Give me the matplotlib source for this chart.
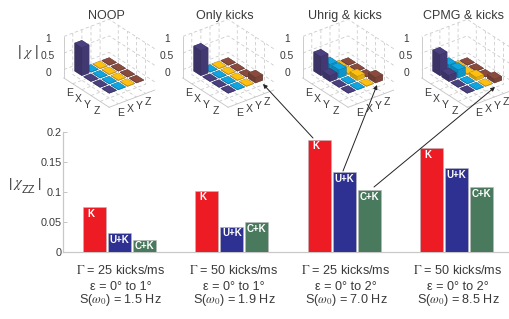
import numpy as np
import matplotlib
matplotlib.use("Agg")
import matplotlib.pyplot as plt
from matplotlib.colors import to_rgb
from matplotlib.patches import FancyArrowPatch
from mpl_toolkits.mplot3d import proj3d

# ---------- data ----------
conditions = ["K", "U+K", "C+K"]
k_values = [0.074, 0.102, 0.187, 0.173]
u_values = [0.031, 0.042, 0.133, 0.139]
c_values = [0.020, 0.049, 0.103, 0.108]
gamma_labels = ["25", "50", "25", "50"]
eps_labels = ["1", "1", "2", "2"]
s_labels = ["1.5", "1.9", "7.0", "8.5"]
panel_titles = ["NOOP", "Only kicks", "Uhrig & kicks", "CPMG & kicks"]
pauli = ["E", "X", "Y", "Z"]

# rows: y index (E, X, Y, Z); columns: x index (E, X, Y, Z)
chi_noop = [[0.85, 0.015, 0.015, 0.015],
            [0.015, 0.015, 0.015, 0.015],
            [0.015, 0.015, 0.015, 0.015],
            [0.015, 0.015, 0.015, 0.015]]
chi_kicks = [[0.76, 0.015, 0.015, 0.015],
             [0.015, 0.015, 0.015, 0.015],
             [0.015, 0.015, 0.015, 0.015],
             [0.015, 0.015, 0.015, 0.17]]
chi_uhrig = [[0.58, 0.18, 0.015, 0.015],
             [0.24, 0.25, 0.015, 0.015],
             [0.04, 0.04, 0.13, 0.015],
             [0.015, 0.015, 0.015, 0.17]]
chi_cpmg = [[0.64, 0.19, 0.015, 0.015],
            [0.22, 0.25, 0.015, 0.015],
            [0.03, 0.03, 0.10, 0.015],
            [0.015, 0.015, 0.015, 0.12]]
panels = [chi_noop, chi_kicks, chi_uhrig, chi_cpmg]

# ---------- style ----------
W, H = 510, 319
plt.rcParams["font.family"] = ["Liberation Sans", "DejaVu Sans"]
plt.rcParams["mathtext.fontset"] = "stix"
plt.rcParams["grid.linestyle"] = (0, (4, 3))
plt.rcParams["grid.color"] = "#cccccc"
plt.rcParams["grid.linewidth"] = 0.6
TXT = "#3a3a3a"
BAR_COLS = ["#ed1c24", "#2e3192", "#4a7a5e"]
ROW_COLS = ["#4a3f7f", "#0ea5e0", "#fdc010", "#8a4b3c"]

fig = plt.figure(figsize=(W / 100, H / 100), dpi=100)
fig.patch.set_facecolor("white")


def rect(x0, y_top, x1, y_bot):
    return [x0 / W, 1 - y_bot / H, (x1 - x0) / W, (y_bot - y_top) / H]


def shade(col, f):
    return tuple(c * f for c in to_rgb(col))


# ---------- main bars ----------
ax = fig.add_axes(rect(63, 131.7, 510, 251.7))
x_groups = np.arange(4)
bw = 0.205
step = 0.2226
for i, (vals, col, name) in enumerate(zip([k_values, u_values, c_values], BAR_COLS, conditions)):
    xs = x_groups + (i - 1) * step
    ax.bar(xs, vals, width=bw, color=col, edgecolor="#b9b9b9", linewidth=0.4, zorder=3)
    for x, v in zip(xs, vals):
        ax.annotate(name, (x, v), xytext=(-2.5 if i == 0 else 0, -4.8), textcoords="offset points",
                    ha="center", va="center", color="white", fontsize=7, fontweight="bold", zorder=4)
ax.set_xlim(-0.503, 3.477)
ax.set_ylim(0, 0.2)
ax.set_yticks([0, 0.05, 0.1, 0.15, 0.2])
ax.set_yticklabels(["0", "0.05", "0.1", "0.15", "0.2"], color=TXT, fontsize=7.8)
ax.set_xticks([])
ax.tick_params(axis="y", length=3, width=0.7, color="#c4c4c4", direction="in", pad=1)
for s in ("top", "right"):
    ax.spines[s].set_visible(False)
for s in ("left", "bottom"):
    ax.spines[s].set_color("#c8c8c8")
    ax.spines[s].set_linewidth(0.9)

text_x = [120.5, 234, 346, 458]
for px, g, e, s in zip(text_x, gamma_labels, eps_labels, s_labels):
    fig.text(px / W, 1 - 270.5 / H, rf"$\mathrm{{\Gamma}}$ = {g} kicks/ms", ha="center", va="center", color=TXT, fontsize=9.1)
    fig.text(px / W, 1 - 287 / H, f"ε = 0° to {e}°", ha="center", va="center", color=TXT, fontsize=9.1)
    fig.text(px / W, 1 - 300.5 / H, rf"S($\omega_0$) = {s} Hz", ha="center", va="center", color=TXT, fontsize=9.1)

fig.text(11 / W, 1 - 184.5 / H, "|", ha="center", va="center", color=TXT, fontsize=9.5)
fig.text(18 / W, 1 - 185 / H, r"$\chi$", ha="center", va="center", color=TXT, fontsize=10.5)
fig.text(28.5 / W, 1 - 190 / H, "ZZ", ha="center", va="center", color=TXT, fontsize=8)
fig.text(40 / W, 1 - 184.5 / H, "|", ha="center", va="center", color=TXT, fontsize=9.5)
fig.text(28 / W, 1 - 52 / H, r"| $\chi$ |", ha="center", va="center", color=TXT, fontsize=10)

# ---------- 3D insets ----------
left_corners = [63, 182, 302, 421]
az = -37.4
target_w = 91.0  # px from left floor corner to right floor corner
for lc, title, mat in zip(left_corners, panel_titles, panels):
    cx, cy = lc + 44.5, 65.0
    hw = hh = 62
    a3 = fig.add_axes(rect(cx - hw, cy - hh, cx + hw, cy + hh), projection="3d", proj_type="ortho")
    a3.patch.set_alpha(0)
    a3.view_init(elev=29.6, azim=az)
    a3.set_xlim(0, 5)
    a3.set_ylim(0, 5)
    a3.set_zlim(-0.25, 1)
    a3.set_box_aspect((74, 56.6, 47), zoom=1.0)

    def corner_span():
        M = a3.get_proj()
        pts = []
        for p in [(0, 0, -0.25), (5, 5, -0.25)]:
            xp, yp, _ = proj3d.proj_transform(*p, M)
            pts.append(a3.transData.transform((xp, yp)))
        return pts[1][0] - pts[0][0]

    a3.set_box_aspect((74, 56.6, 47), zoom=target_w / corner_span())

    for yi in range(3, -1, -1):
        for xi in range(4):
            h = mat[yi][xi]
            c = ROW_COLS[yi]
            faces = [c, c, shade(c, 0.8), shade(c, 0.8), shade(c, 0.9), shade(c, 0.9)]
            a3.bar3d(xi + 0.6, yi + 0.6, 0, 0.8, 0.8, h, color=faces,
                     edgecolor=(0.15, 0.15, 0.25, 0.3), linewidth=0.2, shade=False)

    a3.set_xticks([1, 2, 3, 4])
    a3.set_yticks([1, 2, 3, 4])
    a3.set_zticks([0, 0.5, 1])
    a3.set_xticklabels(pauli, color=TXT, fontsize=7.6)
    a3.set_yticklabels(pauli, color=TXT, fontsize=7.6)
    a3.set_zticklabels(["0", "0.5", "1"], color=TXT, fontsize=7.4)
    a3.tick_params(axis="x", pad=-4.5)
    a3.tick_params(axis="y", pad=-5.5)
    a3.tick_params(axis="z", pad=0)
    a3.zaxis.set_ticks_position("lower")
    for axis in (a3.xaxis, a3.yaxis, a3.zaxis):
        axis.set_pane_color((1, 1, 1, 0))
        axis.line.set_color("#c4c4c4")
        axis.line.set_linewidth(0.6)
        axis._axinfo["tick"]["inward_factor"] = 0
        axis._axinfo["tick"]["outward_factor"] = 0
        axis.pane.set_edgecolor("#cccccc")
    fig.text((lc + 43) / W, 1 - 16 / H, title, ha="center", va="center", color=TXT, fontsize=9)

# ---------- arrows ----------
arrows = [((313, 138), (263, 84)), ((343, 171), (377, 85)), ((374, 187), (495, 87))]
for (x0, y0), (x1, y1) in arrows:
    fig.add_artist(FancyArrowPatch((x0 / W, 1 - y0 / H), (x1 / W, 1 - y1 / H),
                                   transform=fig.transFigure, arrowstyle="-|>", mutation_scale=6,
                                   shrinkA=0, shrinkB=0, color="#222222", linewidth=0.7, zorder=10))

fig.savefig("out.png", dpi=100)
